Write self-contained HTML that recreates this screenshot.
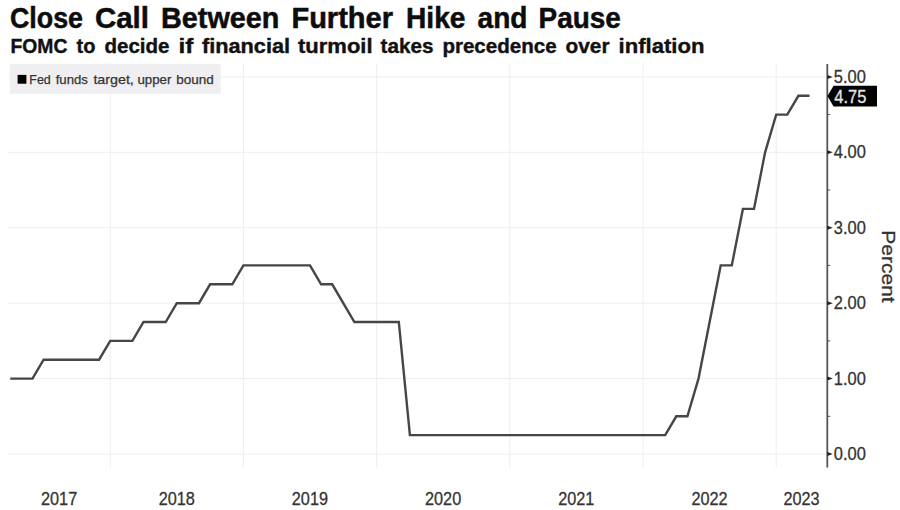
<!DOCTYPE html>
<html><head><meta charset="utf-8">
<style>
html,body{margin:0;padding:0;background:#fff;}
body{width:900px;height:510px;overflow:hidden;}
svg{display:block;}
text{font-family:"Liberation Sans",sans-serif;}
.g{stroke:#efedf1;stroke-width:1;}
.yl{font-size:18px;fill:#333;stroke:#333;stroke-width:0.3px;}
.xl{font-size:19px;fill:#333;stroke:#333;stroke-width:0.3px;}
</style></head>
<body>
<svg width="900" height="510" viewBox="0 0 900 510">
<rect x="0" y="0" width="900" height="510" fill="#fff"/>
<text x="9.90" y="27.6" font-size="29.5" font-weight="bold" fill="#0d0d0d" stroke="#0d0d0d" stroke-width="0.5" textLength="73.11" lengthAdjust="spacingAndGlyphs">Close</text>
<text x="94.90" y="27.6" font-size="29.5" font-weight="bold" fill="#0d0d0d" stroke="#0d0d0d" stroke-width="0.5" textLength="54.13" lengthAdjust="spacingAndGlyphs">Call</text>
<text x="161.00" y="27.6" font-size="29.5" font-weight="bold" fill="#0d0d0d" stroke="#0d0d0d" stroke-width="0.5" textLength="118.41" lengthAdjust="spacingAndGlyphs">Between</text>
<text x="291.40" y="27.6" font-size="29.5" font-weight="bold" fill="#0d0d0d" stroke="#0d0d0d" stroke-width="0.5" textLength="101.63" lengthAdjust="spacingAndGlyphs">Further</text>
<text x="406.00" y="27.6" font-size="29.5" font-weight="bold" fill="#0d0d0d" stroke="#0d0d0d" stroke-width="0.5" textLength="59.48" lengthAdjust="spacingAndGlyphs">Hike</text>
<text x="477.50" y="27.6" font-size="29.5" font-weight="bold" fill="#0d0d0d" stroke="#0d0d0d" stroke-width="0.5" textLength="49.96" lengthAdjust="spacingAndGlyphs">and</text>
<text x="538.50" y="27.6" font-size="29.5" font-weight="bold" fill="#0d0d0d" stroke="#0d0d0d" stroke-width="0.5" textLength="82.37" lengthAdjust="spacingAndGlyphs">Pause</text>
<text x="10.50" y="53" font-size="21" font-weight="bold" fill="#111" stroke="#111" stroke-width="0.4" textLength="56.95" lengthAdjust="spacingAndGlyphs">FOMC</text>
<text x="76.50" y="53" font-size="21" font-weight="bold" fill="#111" stroke="#111" stroke-width="0.4" textLength="18.91" lengthAdjust="spacingAndGlyphs">to</text>
<text x="104.50" y="53" font-size="21" font-weight="bold" fill="#111" stroke="#111" stroke-width="0.4" textLength="64.97" lengthAdjust="spacingAndGlyphs">decide</text>
<text x="178.50" y="53" font-size="21" font-weight="bold" fill="#111" stroke="#111" stroke-width="0.4" textLength="14.87" lengthAdjust="spacingAndGlyphs">if</text>
<text x="202.00" y="53" font-size="21" font-weight="bold" fill="#111" stroke="#111" stroke-width="0.4" textLength="88.09" lengthAdjust="spacingAndGlyphs">financial</text>
<text x="298.00" y="53" font-size="21" font-weight="bold" fill="#111" stroke="#111" stroke-width="0.4" textLength="74.59" lengthAdjust="spacingAndGlyphs">turmoil</text>
<text x="380.50" y="53" font-size="21" font-weight="bold" fill="#111" stroke="#111" stroke-width="0.4" textLength="52.89" lengthAdjust="spacingAndGlyphs">takes</text>
<text x="442.40" y="53" font-size="21" font-weight="bold" fill="#111" stroke="#111" stroke-width="0.4" textLength="114.20" lengthAdjust="spacingAndGlyphs">precedence</text>
<text x="565.50" y="53" font-size="21" font-weight="bold" fill="#111" stroke="#111" stroke-width="0.4" textLength="43.98" lengthAdjust="spacingAndGlyphs">over</text>
<text x="618.50" y="53" font-size="21" font-weight="bold" fill="#111" stroke="#111" stroke-width="0.4" textLength="85.90" lengthAdjust="spacingAndGlyphs">inflation</text>
<line x1="110.2" y1="63" x2="110.2" y2="467.5" class="g"/>
<line x1="243.4" y1="63" x2="243.4" y2="467.5" class="g"/>
<line x1="376.6" y1="63" x2="376.6" y2="467.5" class="g"/>
<line x1="509.8" y1="63" x2="509.8" y2="467.5" class="g"/>
<line x1="643.0" y1="63" x2="643.0" y2="467.5" class="g"/>
<line x1="776.2" y1="63" x2="776.2" y2="467.5" class="g"/>
<line x1="8.5" y1="454.0" x2="827.3" y2="454.0" class="g"/>
<line x1="8.5" y1="378.6" x2="827.3" y2="378.6" class="g"/>
<line x1="8.5" y1="303.2" x2="827.3" y2="303.2" class="g"/>
<line x1="8.5" y1="227.7" x2="827.3" y2="227.7" class="g"/>
<line x1="8.5" y1="152.3" x2="827.3" y2="152.3" class="g"/>
<line x1="8.5" y1="76.9" x2="827.3" y2="76.9" class="g"/>
<rect x="9.7" y="63.8" width="211" height="30" fill="#efeef1"/>
<rect x="17.6" y="74.9" width="8.8" height="8.8" fill="#000"/>
<text x="29.30" y="84.4" font-size="13.5" font-weight="normal" fill="#333" stroke="#333" stroke-width="0.25" textLength="21.43" lengthAdjust="spacingAndGlyphs">Fed</text>
<text x="55.70" y="84.4" font-size="13.5" font-weight="normal" fill="#333" stroke="#333" stroke-width="0.25" textLength="32.19" lengthAdjust="spacingAndGlyphs">funds</text>
<text x="93.40" y="84.4" font-size="13.5" font-weight="normal" fill="#333" stroke="#333" stroke-width="0.25" textLength="40.45" lengthAdjust="spacingAndGlyphs">target,</text>
<text x="137.40" y="84.4" font-size="13.5" font-weight="normal" fill="#333" stroke="#333" stroke-width="0.25" textLength="34.03" lengthAdjust="spacingAndGlyphs">upper</text>
<text x="176.30" y="84.4" font-size="13.5" font-weight="normal" fill="#333" stroke="#333" stroke-width="0.25" textLength="37.46" lengthAdjust="spacingAndGlyphs">bound</text>
<line x1="827.3" y1="64" x2="827.3" y2="467.5" stroke="#555" stroke-width="1.8"/>
<path d="M827.3,452.0 L832.8,454.0 L827.3,456.0 Z" fill="#222"/>
<path d="M827.3,376.6 L832.8,378.6 L827.3,380.6 Z" fill="#222"/>
<path d="M827.3,301.2 L832.8,303.2 L827.3,305.2 Z" fill="#222"/>
<path d="M827.3,225.7 L832.8,227.7 L827.3,229.7 Z" fill="#222"/>
<path d="M827.3,150.3 L832.8,152.3 L827.3,154.3 Z" fill="#222"/>
<path d="M827.3,74.9 L832.8,76.9 L827.3,78.9 Z" fill="#222"/>
<line x1="827.3" y1="416.3" x2="830.3" y2="416.3" stroke="#555" stroke-width="1"/>
<line x1="827.3" y1="340.9" x2="830.3" y2="340.9" stroke="#555" stroke-width="1"/>
<line x1="827.3" y1="265.4" x2="830.3" y2="265.4" stroke="#555" stroke-width="1"/>
<line x1="827.3" y1="190.0" x2="830.3" y2="190.0" stroke="#555" stroke-width="1"/>
<line x1="827.3" y1="114.6" x2="830.3" y2="114.6" stroke="#555" stroke-width="1"/>
<text x="833.8" y="460.0" class="yl" textLength="32" lengthAdjust="spacingAndGlyphs">0.00</text>
<text x="833.8" y="384.6" class="yl" textLength="32" lengthAdjust="spacingAndGlyphs">1.00</text>
<text x="833.8" y="309.2" class="yl" textLength="32" lengthAdjust="spacingAndGlyphs">2.00</text>
<text x="833.8" y="233.7" class="yl" textLength="32" lengthAdjust="spacingAndGlyphs">3.00</text>
<text x="833.8" y="158.3" class="yl" textLength="32" lengthAdjust="spacingAndGlyphs">4.00</text>
<text x="833.8" y="82.9" class="yl" textLength="32" lengthAdjust="spacingAndGlyphs">5.00</text>
<path d="M10.3,378.6 L32.5,378.6 L43.6,359.7 L99.1,359.7 L110.2,340.9 L132.4,340.9 L143.5,322.0 L165.7,322.0 L176.8,303.2 L199.0,303.2 L210.1,284.3 L232.3,284.3 L243.4,265.4 L310.0,265.4 L321.1,284.3 L332.2,284.3 L354.4,322.0 L398.8,322.0 L409.9,435.1 L665.2,435.1 L676.3,416.3 L687.4,416.3 L698.5,378.6 L720.7,265.4 L731.8,265.4 L742.9,208.9 L754.0,208.9 L765.1,152.3 L776.2,114.6 L787.3,114.6 L798.4,95.8 L809.5,95.8" fill="none" stroke="#48444a" stroke-width="2.4" stroke-linejoin="miter"/>
<path d="M827.4,96.1 L833.6,85.8 L877,85.8 L877,106.5 L833.6,106.5 Z" fill="#000"/>
<text x="834.3" y="103.1" font-size="18.5" fill="#e6e6e6" stroke="#e6e6e6" stroke-width="0.3" textLength="32" lengthAdjust="spacingAndGlyphs">4.75</text>
<text transform="translate(881.8,230.2) rotate(90)" x="0" y="0" font-size="18" fill="#333" stroke="#333" stroke-width="0.3" textLength="72.5" lengthAdjust="spacingAndGlyphs">Percent</text>
<text x="41.0" y="505.3" class="xl" textLength="36.2" lengthAdjust="spacingAndGlyphs">2017</text>
<text x="158.7" y="505.3" class="xl" textLength="36.2" lengthAdjust="spacingAndGlyphs">2018</text>
<text x="291.8" y="505.3" class="xl" textLength="36.2" lengthAdjust="spacingAndGlyphs">2019</text>
<text x="425.0" y="505.3" class="xl" textLength="36.2" lengthAdjust="spacingAndGlyphs">2020</text>
<text x="558.2" y="505.3" class="xl" textLength="36.2" lengthAdjust="spacingAndGlyphs">2021</text>
<text x="691.4" y="505.3" class="xl" textLength="36.2" lengthAdjust="spacingAndGlyphs">2022</text>
<text x="783.4" y="505.3" class="xl" textLength="36.2" lengthAdjust="spacingAndGlyphs">2023</text>
</svg>
</body></html>
